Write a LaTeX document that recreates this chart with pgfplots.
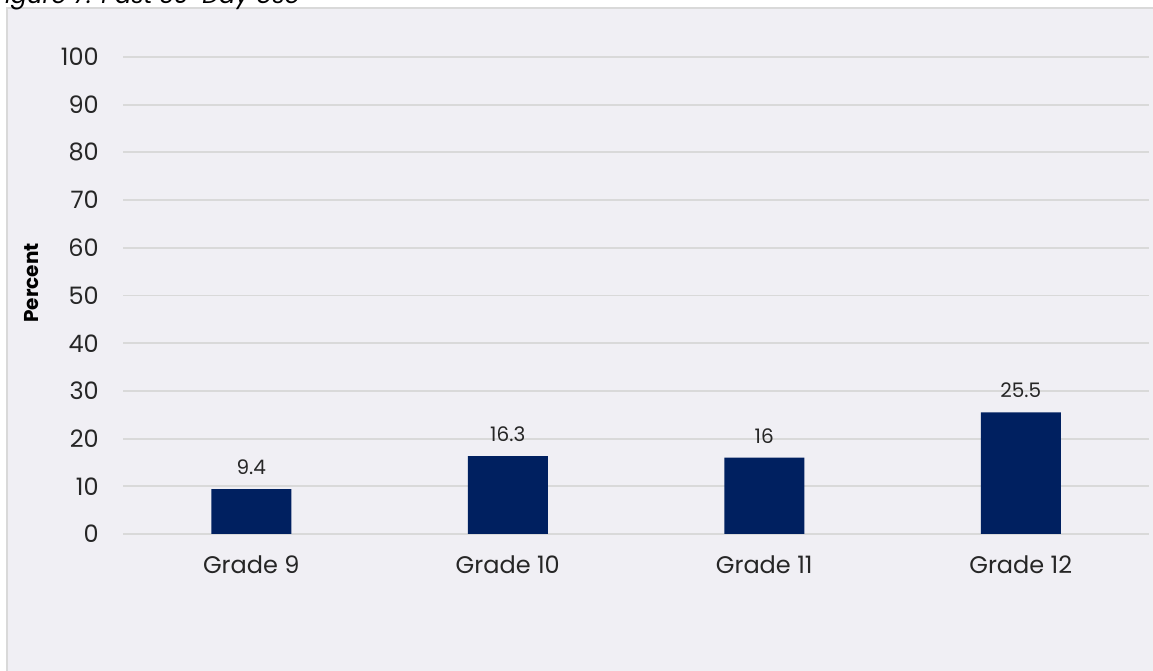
\documentclass[border=0pt]{standalone}
\usepackage{pgfplots}
\pgfplotsset{compat=1.18}
\usepackage{fontspec}
\setmainfont{Poppins}
\definecolor{panelbg}{HTML}{F0EFF4}
\definecolor{gridc}{HTML}{D9D9D9}
\definecolor{navy}{HTML}{002060}
\begin{document}
\begin{tikzpicture}
% panel
\fill[white] (0,0) rectangle (864.75pt,503.25pt);
\filldraw[fill=panelbg, draw=gridc, line width=1.5pt] (5.25pt,-5pt) rectangle (870pt,497.25pt);
% title, cut off at the top edge as in the reference
\node[anchor=base east, inner sep=0pt, font=\fontsize{18}{22}\selectfont\itshape] at (225pt,500.5pt) {Figure 7: Past 30-Day Use};
\begin{axis}[
  at={(92.25pt,102.75pt)}, anchor=south west,
  scale only axis, width=769.5pt, height=357.75pt,
  xmin=-0.5, xmax=3.5, ymin=0, ymax=100,
  ytick={0,10,...,100},
  xtick={0,1,2,3},
  xticklabels={Grade 9, Grade 10, Grade 11, Grade 12},
  axis line style={draw=none},
  major tick length=0pt,
  ymajorgrids, grid style={gridc, line width=1.4pt},
  tick label style={font=\fontsize{18}{22}\selectfont, text=black!85},
  yticklabel style={inner sep=0pt, anchor=east, xshift=-18pt},
  xticklabel style={inner sep=0pt, anchor=north, yshift=-16pt},
  /pgf/number format/assume math mode=true,
  ybar, bar width=60pt,
  nodes near coords,
  nodes near coords style={font=\fontsize{15}{18}\selectfont, text=black!85, anchor=south, inner sep=0pt, yshift=10.5pt},
  point meta=explicit symbolic,
  clip=false,
]
\addplot[fill=navy, draw=none] coordinates {(0,9.4) [9.4] (1,16.3) [16.3] (2,16) [16] (3,25.5) [25.5]};
\end{axis}
\node[rotate=90, font=\fontsize{15}{18}\selectfont\bfseries, inner sep=0pt] at (24pt,291pt) {Percent};
\pgfresetboundingbox
\useasboundingbox (0,0) rectangle (864.75pt,503.25pt);
\end{tikzpicture}
\end{document}
